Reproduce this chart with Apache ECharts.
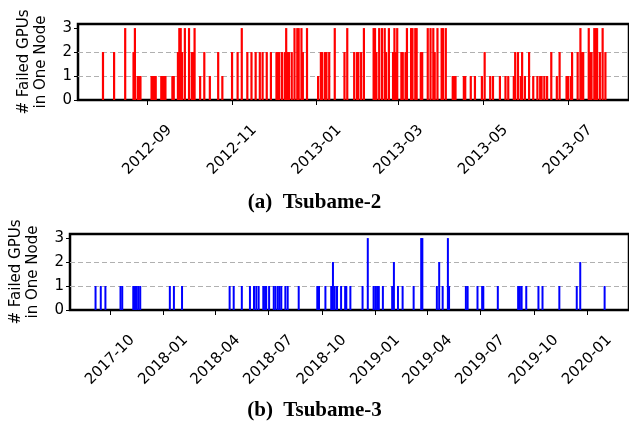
<!DOCTYPE html>
<html>
<head>
<meta charset="utf-8">
<script src="https://cdn.jsdelivr.net/npm/echarts@6/dist/echarts.min.js"></script>
<style>
html,body{margin:0;padding:0;background:#fff;}
#chart{width:629px;height:425px;}
</style>
</head>
<body>
<div id="chart"></div>
<script>
// Tsubame-2 : 单节点故障GPU数
var t2Dates = [
	'2012-07-31','2012-08-08','2012-08-16','2012-08-22','2012-08-23','2012-08-25','2012-08-26','2012-08-27',
	'2012-09-04','2012-09-05','2012-09-06','2012-09-07','2012-09-11','2012-09-12','2012-09-13','2012-09-14','2012-09-19','2012-09-20',
	'2012-09-23','2012-09-24','2012-09-25','2012-09-26','2012-09-28',
	'2012-10-01','2012-10-03','2012-10-04','2012-10-05',
	'2012-10-09','2012-10-12','2012-10-16','2012-10-22','2012-10-25',
	'2012-11-01','2012-11-05','2012-11-08','2012-11-12','2012-11-15','2012-11-18','2012-11-21',
	'2012-11-23','2012-11-26','2012-11-29','2012-12-03','2012-12-04','2012-12-05','2012-12-07',
	'2012-12-09','2012-12-10','2012-12-11','2012-12-12','2012-12-14',
	'2012-12-16','2012-12-18','2012-12-19','2012-12-21','2012-12-22','2012-12-25',
	'2013-01-02','2013-01-04','2013-01-05','2013-01-07','2013-01-08','2013-01-10',
	'2013-01-14','2013-01-21','2013-01-23','2013-01-28','2013-01-30','2013-01-31','2013-02-02','2013-02-04',
	'2013-02-11','2013-02-12','2013-02-13','2013-02-15','2013-02-17','2013-02-19','2013-02-20','2013-02-22',
	'2013-02-25','2013-02-26','2013-02-27','2013-02-28','2013-03-03','2013-03-04','2013-03-06','2013-03-07',
	'2013-03-10','2013-03-11','2013-03-13','2013-03-14','2013-03-17','2013-03-18',
	'2013-03-22','2013-03-24','2013-03-26','2013-03-27','2013-03-29','2013-04-01','2013-04-02','2013-04-04',
	'2013-04-09','2013-04-10','2013-04-11','2013-04-17','2013-04-18','2013-04-22','2013-04-25','2013-04-30',
	'2013-05-02','2013-05-06','2013-05-08','2013-05-13','2013-05-17','2013-05-19','2013-05-23','2013-05-24',
	'2013-05-26','2013-05-28','2013-05-29','2013-05-31','2013-06-03',
	'2013-06-06','2013-06-09','2013-06-11','2013-06-12','2013-06-14','2013-06-16',
	'2013-06-19','2013-06-23','2013-06-25','2013-06-30','2013-07-01','2013-07-03','2013-07-04',
	'2013-07-08','2013-07-10','2013-07-11','2013-07-12','2013-07-16','2013-07-17','2013-07-18',
	'2013-07-20','2013-07-21','2013-07-22','2013-07-24','2013-07-26','2013-07-28'
];
var t2Counts = [
	2,2,3,2,3,1,1,1,
	1,1,1,1,1,1,1,1,1,1,
	2,3,3,2,3,
	3,2,2,3,
	1,2,1,2,1,
	2,2,3,2,2,2,2,
	2,2,2,2,2,2,2,
	2,3,2,2,2,
	3,3,3,3,2,3,
	1,2,2,2,2,2,
	3,2,3,2,2,2,2,3,
	3,3,2,3,3,3,2,3,
	2,3,2,3,2,2,2,3,
	3,3,3,3,2,2,
	3,3,3,2,3,3,3,3,
	1,1,1,1,1,1,1,1,
	2,1,1,1,1,1,1,2,
	2,1,2,1,2,
	1,1,1,1,1,1,
	2,1,2,1,1,1,2,
	2,3,2,2,3,2,2,
	3,3,3,2,3,2
];
var t2Ticks = ['2012-09','2012-11','2013-01','2013-03','2013-05','2013-07'];

// Tsubame-3
var t3Dates = [
	'2017-09-06','2017-09-15','2017-09-23','2017-10-19','2017-10-22','2017-11-10','2017-11-13','2017-11-16','2017-11-19','2017-11-22',
	'2018-01-12','2018-01-19','2018-02-02','2018-04-25','2018-05-02','2018-05-16','2018-05-30','2018-06-06','2018-06-10','2018-06-14',
	'2018-06-22','2018-06-25','2018-06-27','2018-07-02','2018-07-10','2018-07-13','2018-07-17','2018-07-20','2018-07-23','2018-07-30',
	'2018-08-03','2018-08-22','2018-09-23','2018-09-26','2018-10-07','2018-10-17','2018-10-20','2018-10-23','2018-10-27','2018-11-03',
	'2018-11-10','2018-11-12','2018-11-19','2018-12-10','2018-12-19','2018-12-29',
	'2019-01-01','2019-01-04','2019-01-07','2019-01-14','2019-01-30','2019-02-02','2019-02-09','2019-02-17','2019-03-08','2019-03-21',
	'2019-03-23','2019-04-17','2019-04-21','2019-04-27','2019-05-06','2019-05-08','2019-06-06','2019-06-09','2019-06-26','2019-07-04',
	'2019-07-06','2019-07-31','2019-09-04','2019-09-07','2019-09-10','2019-09-18','2019-10-09','2019-10-16','2019-11-14','2019-12-14',
	'2019-12-20','2020-01-31'
];
var t3Counts = [
	1,1,1,1,1,1,1,1,1,1,
	1,1,1,1,1,1,1,1,1,1,
	1,1,1,1,1,1,1,1,1,1,
	1,1,1,1,1,1,2,1,1,1,
	1,1,1,1,3,1,
	1,1,1,1,1,2,1,1,1,3,
	3,1,2,1,3,1,1,1,1,1,
	1,1,1,1,1,1,1,1,1,1,
	2,1
];
var t3Ticks = ['2017-10','2018-01','2018-04','2018-07','2018-10','2019-01','2019-04','2019-07','2019-10','2020-01'];

var yTicks = [0, 1, 2, 3];

// 日期字符串 -> 本地时间戳
function toTime(s){
	var p = s.split('-');
	return new Date(+p[0], +p[1]-1, p[2] ? +p[2] : 1).getTime();
}

function toPairs(dates, counts){
	var arr = [];
	for (var i = 0; i < dates.length; i++) {
		arr.push([toTime(dates[i]), counts[i]]);
	}
	return arr;
}

function fmtMonth(v){
	var d = new Date(v);
	var m = d.getMonth()+1;
	return d.getFullYear()+'-'+(m<10 ? '0'+m : m);
}

var font = 'DejaVu Sans';

function makeXAxis(idx, min, max, ticks){
	var vals = ticks.map(toTime);
	return {
		type : 'value',
		gridIndex : idx,
		min : toTime(min),
		max : toTime(max),
		axisLine : {show:false},
		splitLine : {show:false},
		axisTick : {show:true, customValues:vals, length:5, lineStyle:{color:'#000', width:1}},
		axisLabel : {
			customValues : vals,
			formatter : fmtMonth,
			rotate : 45,
			align : 'center',
			verticalAlign : 'middle',
			margin : 50,
			fontSize : 15,
			fontFamily : font,
			color : '#000',
			hideOverlap : false
		}
	};
}

function makeYAxis(idx){
	return {
		type : 'value',
		gridIndex : idx,
		min : 0,
		max : 3.17,
		interval : 1,
		name : '# Failed GPUs\nin One Node',
		nameLocation : 'middle',
		nameRotate : 90,
		nameGap : 28,
		nameTextStyle : {fontSize:15, lineHeight:17, fontFamily:font, color:'#000'},
		axisLine : {show:false},
		axisTick : {show:true, customValues:yTicks, length:4, lineStyle:{color:'#000', width:1}},
		axisLabel : {customValues:yTicks, fontSize:15, fontFamily:font, color:'#000', margin:6},
		splitLine : {show:true, showMinLine:false, showMaxLine:false,
			lineStyle:{color:'#b0b0b0', width:1, type:[5,3]}}
	};
}

var capStyle = {fontFamily:'Liberation Serif', fontWeight:'bold', fontSize:21, color:'#000'};

var chart = echarts.init(document.getElementById('chart'));
chart.setOption({
	animation : false,
	backgroundColor : '#fff',
	title : [
		{text:'(a)  Tsubame-2', left:'center', top:187, textStyle:capStyle},
		{text:'(b)  Tsubame-3', left:'center', top:395, textStyle:capStyle}
	],
	grid : [
		{left:78, top:24, right:-2, height:76, show:true, borderColor:'#000', borderWidth:2.5, backgroundColor:'transparent'},
		{left:67, top:234, right:-2, height:76, show:true, borderColor:'#000', borderWidth:2.5, backgroundColor:'transparent'}
	],
	xAxis : [
		makeXAxis(0, '2012-07-13', '2013-08-14', t2Ticks),
		makeXAxis(1, '2017-07-24', '2020-03-13', t3Ticks)
	],
	yAxis : [makeYAxis(0), makeYAxis(1)],
	series : [
		{name:'Tsubame-2', type:'bar', xAxisIndex:0, yAxisIndex:0, barWidth:2.2,
			itemStyle:{color:'#ff0000'}, data:toPairs(t2Dates, t2Counts)},
		{name:'Tsubame-3', type:'bar', xAxisIndex:1, yAxisIndex:1, barWidth:2,
			itemStyle:{color:'#0000ff'}, data:toPairs(t3Dates, t3Counts)}
	]
});
</script>
</body>
</html>
